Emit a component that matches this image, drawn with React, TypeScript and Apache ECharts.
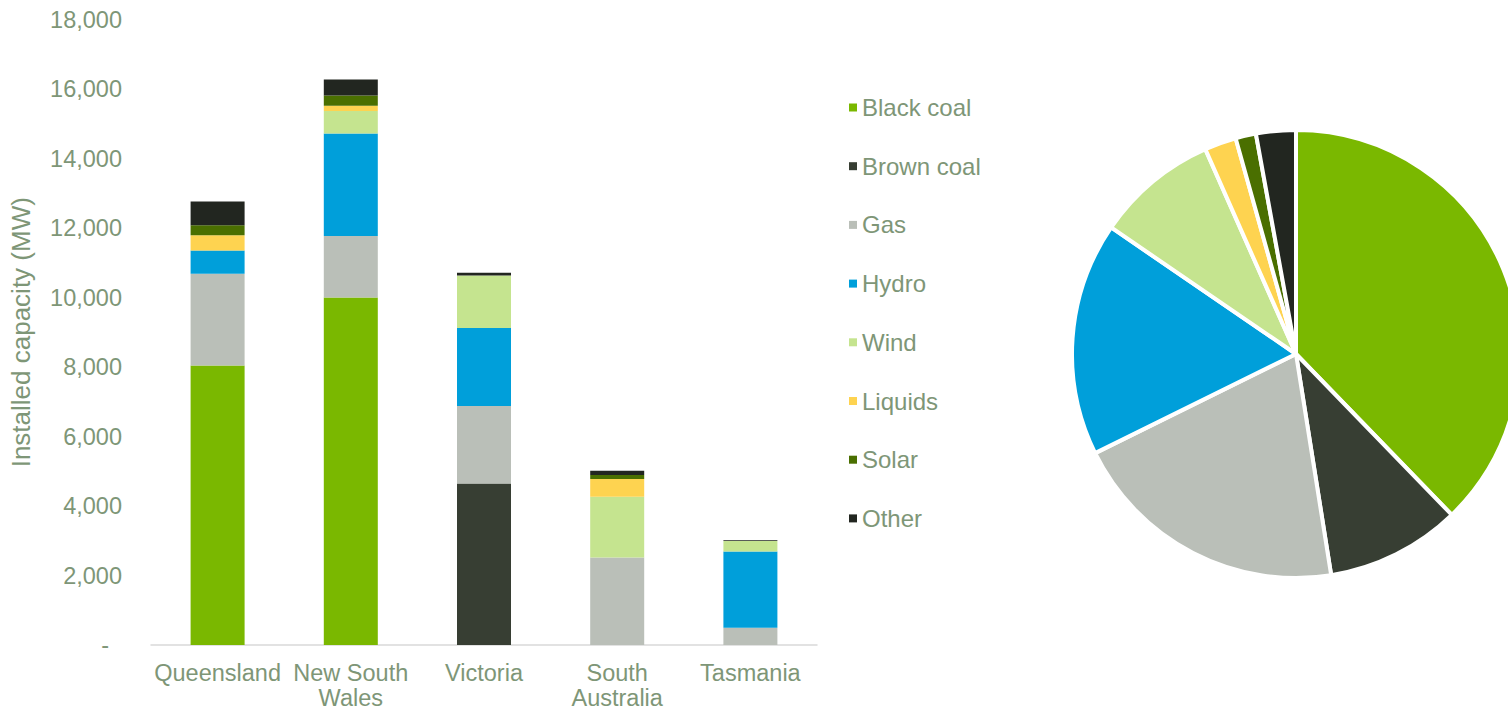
import React, { useEffect, useRef } from "react";
import * as echarts from "echarts";

const categories = ["Queensland", "New South\nWales", "Victoria", "South\nAustralia", "Tasmania"];
const fuelNames = ["Black coal", "Brown coal", "Gas", "Hydro", "Wind", "Liquids", "Solar", "Other"];
const fuelColors = ["#7AB800", "#373E33", "#BABFB8", "#009FDA", "#C5E48F", "#FED350", "#4A6F00", "#222620"];

const blackCoal = [8040, 10000, 0, 0, 0];
const brownCoal = [0, 0, 4650, 0, 0];
const gas = [2640, 1770, 2230, 2520, 500];
const hydro = [670, 2950, 2240, 0, 2190];
const wind = [0, 650, 1510, 1745, 305];
const liquids = [440, 145, 0, 510, 0];
const solar = [290, 300, 0, 115, 0];
const other = [680, 460, 85, 125, 20];

const seriesValues = [blackCoal, brownCoal, gas, hydro, wind, liquids, solar, other];

const yTicks = { min: 0, max: 18000, interval: 2000 };

const textColor = "#7E9677";
const fontFamily = "Arial, 'Liberation Sans', sans-serif";

export default function App() {
  const ref = useRef<HTMLDivElement>(null);
  useEffect(() => {
    if (!ref.current) return;
    const chart = echarts.init(ref.current, undefined, { renderer: "svg" });
    const barSeries = fuelNames.map((name, i) => ({
      name,
      type: "bar",
      stack: "total",
      barWidth: 54,
      itemStyle: { color: fuelColors[i] },
      data: seriesValues[i],
    }));
    const pieData = fuelNames.map((name, i) => ({
      name,
      value: seriesValues[i].reduce((a, b) => a + b, 0),
      itemStyle: { color: fuelColors[i] },
    }));
    chart.setOption({
      animation: false,
      textStyle: { fontFamily, color: textColor },
      grid: {
        left: 151,
        top: 19.5,
        width: 666,
        height: 625.5,
        containLabel: false,
        outerBoundsMode: "none",
      },
      legend: {
        orient: "vertical",
        left: 844,
        top: 90.5,
        itemWidth: 8,
        itemHeight: 8,
        itemGap: 34.7,
        icon: "rect",
        data: fuelNames,
        textStyle: { fontSize: 24, color: textColor, fontFamily },
      },
      xAxis: {
        type: "category",
        data: categories,
        axisLine: { lineStyle: { color: "#D9D9D9", width: 1.5 } },
        axisTick: { show: false },
        axisLabel: { fontSize: 23.5, color: textColor, lineHeight: 24.8, margin: 16, interval: 0, fontFamily },
      },
      yAxis: {
        type: "value",
        min: yTicks.min,
        max: yTicks.max,
        interval: yTicks.interval,
        name: "Installed capacity (MW)",
        nameLocation: "middle",
        nameGap: 117,
        nameTextStyle: { fontSize: 26, color: textColor, fontFamily },
        splitLine: { show: false },
        axisLine: { show: false },
        axisTick: { show: false },
        axisLabel: {
          fontSize: 23.5,
          color: textColor,
          margin: 29,
          fontFamily,
          formatter: (v: number) => (v === 0 ? "{z|-}" : v.toLocaleString("en-US")),
          rich: { z: { fontSize: 23.5, color: textColor, fontFamily, padding: [0, 13, 0, 0] } },
        },
      },
      series: [
        ...barSeries,
        {
          name: "Share",
          type: "pie",
          center: [1296, 354],
          radius: 224,
          startAngle: 90,
          clockwise: true,
          label: { show: false },
          labelLine: { show: false },
          itemStyle: { borderColor: "#ffffff", borderWidth: 4 },
          data: pieData,
        },
      ],
    });
    return () => chart.dispose();
  }, []);
  return <div ref={ref} style={{ position: "absolute", left: 0, top: 0, width: 1508, height: 711 }} />;
}
